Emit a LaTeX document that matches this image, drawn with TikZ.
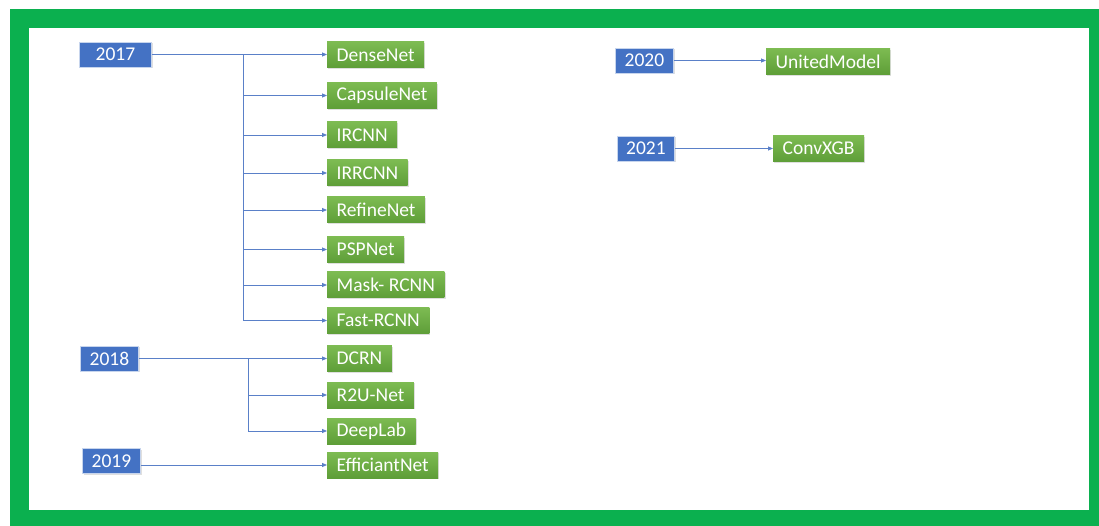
\documentclass[tikz,border=0pt]{standalone}
\usepackage{fontspec}
\setmainfont{Carlito}
\usetikzlibrary{shadows,arrows.meta}
\definecolor{frameg}{HTML}{0BB04F}
\definecolor{yearblue}{HTML}{4472C4}
\definecolor{gtop}{HTML}{7DBB52}
\definecolor{gbot}{HTML}{5E9E38}
\definecolor{linkblue}{HTML}{5A80C8}
\begin{document}
\begin{tikzpicture}[x=1pt,y=-1pt,
  yearbox/.style={fill=yearblue, draw=yearblue!30!white, line width=0.8pt, text=white,
    minimum height=25pt, inner sep=0pt, anchor=west,
    font=\fontsize{19.5}{21}\selectfont,
    drop shadow={shadow xshift=1.2pt, shadow yshift=-1.2pt, opacity=0.25}},
  modelbox/.style={top color=gtop, bottom color=gbot, text=white,
    minimum height=26pt, inner xsep=9.5pt, inner ysep=0pt, anchor=west,
    font=\fontsize{19.5}{21}\selectfont,
    drop shadow={shadow xshift=1.2pt, shadow yshift=-1.2pt, opacity=0.25}},
  link/.style={draw=linkblue, line width=0.8pt},
  arr/.style={link, -{Triangle[length=5pt,width=4pt]}}]
\useasboundingbox (0,0) rectangle (1099,526);
% frame
\fill[frameg] (10,9) rectangle (1099,526);
\fill[white] (29,28) rectangle (1089,510);
% year boxes
\node[yearbox, minimum width=72pt] (y17) at (79,54.5) {2017};
\node[yearbox, minimum width=58pt] (y18) at (80,358.5) {2018};
\node[yearbox, minimum width=58pt] (y19) at (82,461) {2019};
\node[yearbox, minimum width=58pt] (y20) at (615,60.5) {2020};
\node[yearbox, minimum width=57pt] (y21) at (617,148.5) {2021};
% model boxes
\node[modelbox] (dense) at (327,55) {DenseNet};
\node[modelbox] (caps) at (327,95.5) {CapsuleNet};
\node[modelbox] (ircnn) at (327,135) {IRCNN};
\node[modelbox] (irrcnn) at (327,173) {IRRCNN};
\node[modelbox] (refine) at (327,210) {RefineNet};
\node[modelbox] (psp) at (327,249.5) {PSPNet};
\node[modelbox] (mask) at (327,285) {Mask- RCNN};
\node[modelbox] (fast) at (327,320.5) {Fast-RCNN};
\node[modelbox] (dcrn) at (327,358.5) {DCRN};
\node[modelbox] (r2u) at (327,395) {R2U-Net};
\node[modelbox] (deeplab) at (327,431) {DeepLab};
\node[modelbox] (eff) at (327,465) {EfficiantNet};
\node[modelbox] (united) at (766,61.5) {UnitedModel};
\node[modelbox] (conv) at (773,148.5) {ConvXGB};
% connectors 2017
\coordinate (t17) at (243,0);
\draw[arr] (y17.east) -- (y17.east -| dense.west);
\foreach \m in {caps,ircnn,irrcnn,refine,psp,mask,fast}
  \draw[arr] (t17 |- y17.east) |- (\m.west);
% connectors 2018
\coordinate (t18) at (248,0);
\draw[arr] (y18.east) -- (dcrn.west);
\foreach \m in {r2u,deeplab}
  \draw[arr] (t18 |- y18.east) |- (\m.west);
% 2019-2021
\draw[arr] (y19.east |- eff.west) -- (eff.west);
\draw[arr] (y20.east) -- (y20.east -| united.west);
\draw[arr] (y21.east) -- (conv.west);
\end{tikzpicture}
\end{document}
